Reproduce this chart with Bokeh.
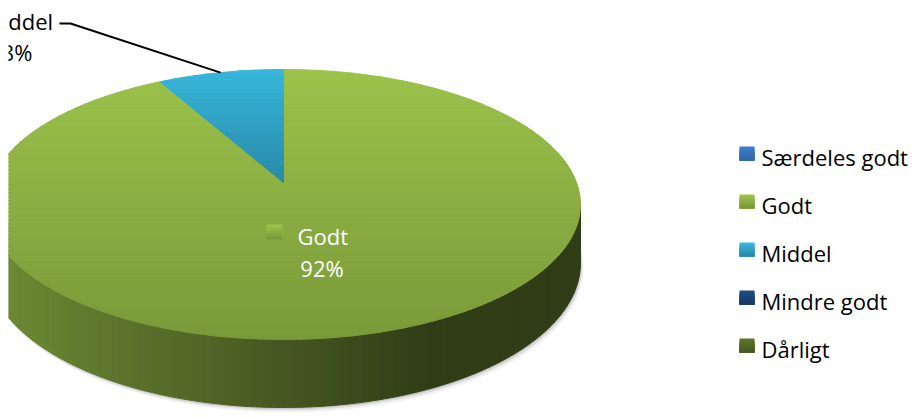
import numpy as np
from bokeh.plotting import figure
from bokeh.models import Range1d
from bokeh.core.properties import value
from bokeh.embed import file_html
from bokeh.resources import INLINE

# ---------------- data ----------------
categories = ["Særdeles godt", "Godt", "Middel", "Mindre godt", "Dårligt"]
shares = [0, 92, 8, 0, 0]
pct_text = ["0%", "92%", "8%", "0%", "0%"]
top_light = ["#3e7dca", "#9cc24a", "#37b7da", "#1f4c80", "#5a752a"]
top_dark = ["#3169aa", "#7a993a", "#2a89a9", "#163a63", "#465b20"]
side_light = ["#2f5f99", "#6f8c35", "#2a8fae", "#143559", "#45591f"]
side_dark = ["#1d3c61", "#303d17", "#1b5e72", "#0c223a", "#2b3813"]

# ---------------- figure ----------------
W, H = 916, 414
LEFT = 8
p = figure(width=W, height=H, output_backend="svg", toolbar_location=None,
           x_range=Range1d(LEFT, W), y_range=Range1d(H, 0),
           x_axis_location=None, y_axis_location=None, min_border=0,
           min_border_left=LEFT)
p.grid.visible = False
p.outline_line_color = None

FONT = value("Open Sans")
TY = -7  # baseline correction for text

# pie geometry (perspective 3D pie)
CX, CY = 283.0, 182.0
KR, A, Q, DEPTH = 293.0, 131.4, 0.163, 68.0


def proj(th, bottom=False):
    th = np.asarray(th, dtype=float)
    den = 1 + Q * np.cos(th)
    x = CX + KR * np.sin(th) / den
    y = CY - A * np.cos(th) / den
    if bottom:
        y = y + DEPTH * (1 - Q) / den
    return x, y


def hx2rgb(h):
    h = h.lstrip("#")
    return [int(h[i:i + 2], 16) for i in (0, 2, 4)]


def lerp(c0, c1, t):
    a, b = hx2rgb(c0), hx2rgb(c1)
    t = min(max(t, 0.0), 1.0)
    return "#%02x%02x%02x" % tuple(int(round(a[i] + (b[i] - a[i]) * t)) for i in range(3))


def _inter(P, C, axis, bound):
    t = (bound - P[axis]) / (C[axis] - P[axis])
    return (P[0] + t * (C[0] - P[0]), P[1] + t * (C[1] - P[1]))


def clip(poly, axis, bound, keep_ge):
    out = []
    n = len(poly)
    for i in range(n):
        P, C = poly[i - 1], poly[i]
        pin = P[axis] >= bound if keep_ge else P[axis] <= bound
        cin = C[axis] >= bound if keep_ge else C[axis] <= bound
        if cin:
            if not pin:
                out.append(_inter(P, C, axis, bound))
            out.append(C)
        elif pin:
            out.append(_inter(P, C, axis, bound))
    return out


def gradient(poly, axis, c0, c1, nb, span=1.0):
    vals = [pt[axis] for pt in poly]
    lo, hi = min(vals), max(vals)
    xs, ys, cols = [], [], []
    for k in range(nb):
        b0 = lo + (hi - lo) * k / nb
        b1 = lo + (hi - lo) * (k + 1) / nb
        piece = clip(clip(poly, axis, b0, True), axis, b1, False)
        if len(piece) >= 3:
            t = ((b0 + b1) / 2 - lo) / ((hi - lo) * span)
            xs.append([pt[0] for pt in piece])
            ys.append([pt[1] for pt in piece])
            cols.append(lerp(c0, c1, t))
    p.patches(xs, ys, fill_color=cols, line_color=cols, line_width=1)


def grad_square(left, right, top, size, c0, c1, nb=7):
    # stacked bands, each running to the square's bottom -> no seams
    for k in range(nb):
        p.quad(left=left, right=right, top=top + size * k / nb, bottom=top + size,
               fill_color=lerp(c0, c1, k / (nb - 1)), line_color=None)


total = float(sum(shares))
bounds = np.concatenate([[0.0], np.cumsum(shares)]) / total * 2 * np.pi
th_a = np.arccos(-Q)
th_b = 2 * np.pi - th_a

# shadow under pie
tt = np.linspace(th_a - 0.3, th_b + 0.3, 200)
sx, sy = proj(tt, bottom=True)
for off, al in ((5, 0.10), (3, 0.18), (1.5, 0.25)):
    p.patch(list(sx + off * 0.6) + list(CX + 0 * sx[::-1]), list(sy + off) + list((CY + 40) + 0 * sy[::-1]),
            fill_color="#808080", fill_alpha=al, line_color=None)

# side walls
for i, s in enumerate(shares):
    if s <= 0:
        continue
    t0, t1 = max(bounds[i], th_a), min(bounds[i + 1], th_b)
    if t1 <= t0:
        continue
    tt = np.linspace(t0, t1, 160)
    xt, yt = proj(tt)
    xb, yb = proj(tt, bottom=True)
    poly = list(zip(xt, yt)) + list(zip(xb[::-1], yb[::-1]))
    gradient(poly, 0, side_light[i], side_dark[i], 90, span=0.75)

# top surfaces
for i, s in enumerate(shares):
    if s <= 0:
        continue
    t0, t1 = bounds[i], bounds[i + 1]
    n = max(4, int(260 * s / total))
    tt = np.linspace(t0, t1, n)
    xt, yt = proj(tt)
    poly = [(CX, CY)] + list(zip(xt, yt))
    gradient(poly, 1, top_light[i], top_dark[i], 70)

# ---------------- data labels ----------------
gi = categories.index("Godt")
mi = categories.index("Middel")

# Godt label inside the slice (with key)
grad_square(266, 282, 224, 15, top_light[gi], top_dark[gi])
p.text(x=[297], y=[242 + TY], text=[categories[gi]], text_font=FONT, text_font_size="22px",
       text_color="white", text_baseline="alphabetic", text_align="left")
p.text(x=[321.5], y=[274 + TY], text=[pct_text[gi]], text_font=FONT, text_font_size="22px",
       text_color="white", text_baseline="alphabetic", text_align="center")

# Middel label outside with leader line
mid = (bounds[mi] + bounds[mi + 1]) / 2
ex, ey = proj(mid)
p.line(x=[59, 70, float(ex)], y=[23, 23, float(ey)], line_color="black", line_width=2)
p.text(x=[17.5], y=[27 + TY], text=[categories[mi]], text_font=FONT, text_font_size="22px",
       text_color="black", text_baseline="alphabetic", text_align="center")
p.text(x=[16.5], y=[58 + TY], text=[pct_text[mi]], text_font=FONT, text_font_size="22px",
       text_color="black", text_baseline="alphabetic", text_align="center")

# ---------------- legend ----------------
LX0, LX1, LY0, LDY, LS = 739, 754, 146, 48, 14
for i, cat in enumerate(categories):
    grad_square(LX0, LX1, LY0 + LDY * i, LS, top_light[i], top_dark[i])
p.text(x=[761] * len(categories), y=[163 + TY + LDY * i for i in range(len(categories))],
       text=categories, text_font=FONT, text_font_size="22px", text_color="black",
       text_baseline="alphabetic", text_align="left")

open("out.html", "w").write(file_html(p, INLINE))
